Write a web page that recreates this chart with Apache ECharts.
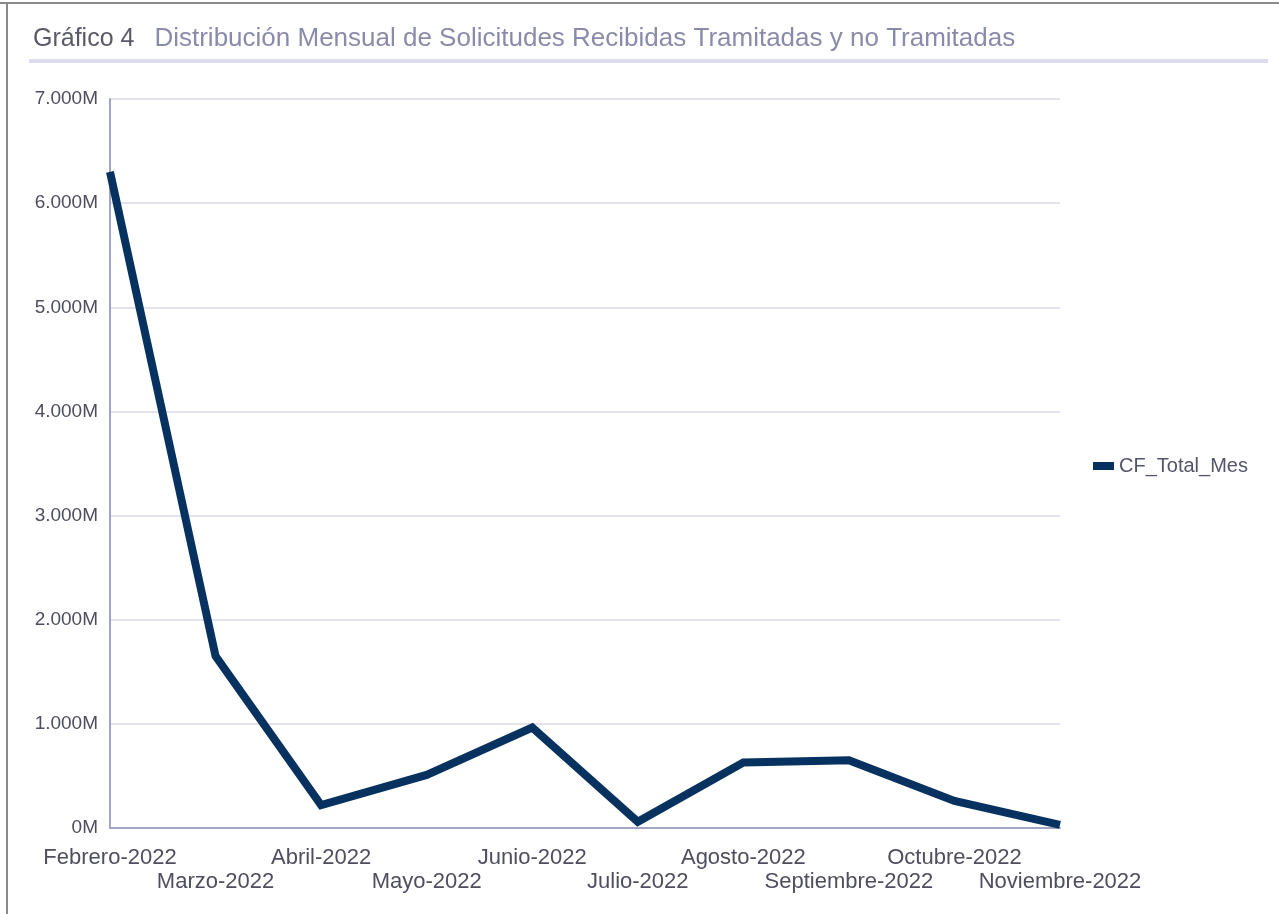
<!DOCTYPE html>
<html>
<head>
<meta charset="utf-8">
<script src="https://cdn.jsdelivr.net/npm/echarts@6/dist/echarts.min.js"></script>
<style>
html,body{margin:0;padding:0;background:#fff;}
#chart{width:1279px;height:914px;}
</style>
</head>
<body>
<div id="chart"></div>
<script>
const categories = ['Febrero-2022','Marzo-2022','Abril-2022','Mayo-2022','Junio-2022','Julio-2022','Agosto-2022','Septiembre-2022','Octubre-2022','Noviembre-2022'];
const cfTotalMes = [6300000, 1650000, 220000, 510000, 965000, 60000, 630000, 650000, 260000, 30000];
const yTickLabels = ['0M','1.000M','2.000M','3.000M','4.000M','5.000M','6.000M','7.000M'];
const titleMain = 'Gráfico 4';
const titleSub = 'Distribución Mensual de Solicitudes Recibidas Tramitadas y no Tramitadas';
const seriesName = 'CF_Total_Mes';

const FONT = "'Liberation Sans', Arial, sans-serif";
const chart = echarts.init(document.getElementById('chart'), null, {renderer:'canvas'});
chart.setOption({
  backgroundColor: '#ffffff',
  animation: false,
  textStyle: {fontFamily: FONT},
  title: {
    left: 28, top: 21,
    text: '{a|' + titleMain + '}{b|' + titleSub + '}',
    textStyle: {
      fontWeight: 'normal',
      rich: {
        a: {fontFamily: FONT, fontSize: 25, fontWeight: 'normal', color: '#5a5a66', padding: [0, 20, 0, 0]},
        b: {fontFamily: FONT, fontSize: 26, fontWeight: 'normal', color: '#8a8aaa'}
      }
    }
  },
  graphic: [
    {type: 'line', shape: {x1: 0, y1: 3, x2: 1279, y2: 3}, style: {stroke: '#8a8a8a', lineWidth: 2}},
    {type: 'line', shape: {x1: 7, y1: 3, x2: 7, y2: 914}, style: {stroke: '#8a8a8a', lineWidth: 2}},
    {type: 'line', shape: {x1: 29, y1: 61, x2: 1268, y2: 61}, style: {stroke: '#dcdcea', lineWidth: 4}}
  ],
  legend: {
    left: 1088, top: 451,
    orient: 'vertical',
    itemWidth: 21, itemHeight: 8, itemGap: 6,
    icon: 'rect',
    textStyle: {fontFamily: FONT, fontSize: 20, color: '#55556a'},
    data: [seriesName]
  },
  grid: {left: 110, right: 219, top: 99, bottom: 86, containLabel: false},
  xAxis: {
    type: 'category',
    data: categories,
    boundaryGap: false,
    axisLine: {lineStyle: {color: '#a4a4c4', width: 2}},
    axisTick: {show: false},
    axisLabel: {
      interval: 0, margin: 18,
      fontFamily: FONT, fontSize: 22, color: '#4e4e5e', lineHeight: 24,
      formatter: function (v, i) { return i % 2 ? '\n' + v : v; }
    },
    splitLine: {show: false}
  },
  yAxis: {
    type: 'value',
    min: 0, max: 7000000, interval: 1000000,
    axisLine: {show: true, lineStyle: {color: '#a4a4c4', width: 2}},
    axisTick: {show: false},
    axisLabel: {
      margin: 12, fontFamily: FONT, fontSize: 19, color: '#4e4e5e',
      formatter: function (v) { return yTickLabels[Math.round(v / 1000000)]; }
    },
    splitLine: {lineStyle: {color: '#e2e2ec', width: 2}}
  },
  series: [{
    name: seriesName,
    type: 'line',
    data: cfTotalMes,
    symbol: 'none',
    lineStyle: {color: '#07325f', width: 8, join: 'miter'},
    itemStyle: {color: '#07325f'}
  }]
});
</script>
</body>
</html>
